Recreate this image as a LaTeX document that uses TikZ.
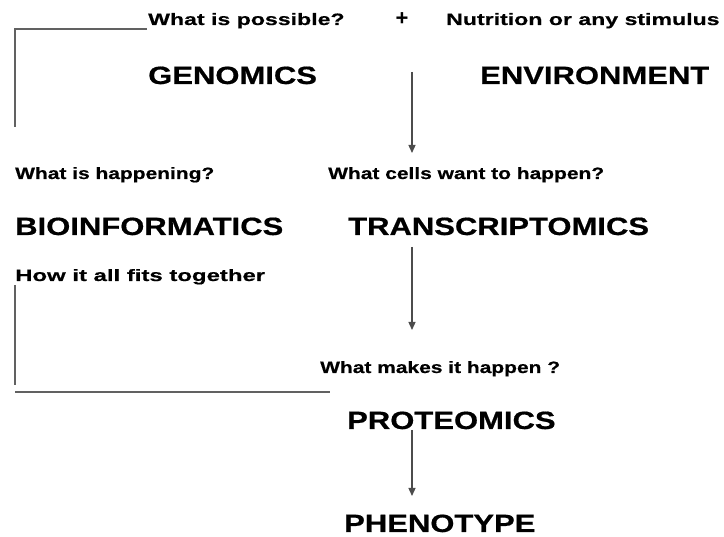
\documentclass[tikz,border=0pt]{standalone}
\usepackage{fontspec}
\usetikzlibrary{arrows.meta}
\setmainfont{Liberation Sans}
\newfontfamily\bigfam[FakeStretch=1.24,FakeBold=0.6]{Liberation Sans}
\newfontfamily\smallAfam[FakeStretch=1.4,FakeBold=0.5]{Liberation Sans}
\newfontfamily\smallDfam[FakeStretch=1.45,FakeBold=0.5]{Liberation Sans}
\newfontfamily\smallBfam[FakeStretch=1.27,FakeBold=0.5]{Liberation Sans}
\tikzset{
  biglabel/.style={anchor=base west, inner sep=0pt, font=\bigfam\bfseries\fontsize{25}{30}\selectfont},
  qlabel/.style={anchor=base west, inner sep=0pt, font=\smallAfam\bfseries\fontsize{16.5}{20}\selectfont},
  qlabelw/.style={anchor=base west, inner sep=0pt, font=\smallDfam\bfseries\fontsize{16.5}{20}\selectfont},
  qlabelc/.style={anchor=base west, inner sep=0pt, font=\smallBfam\bfseries\fontsize{16.5}{20}\selectfont},
  plus/.style={inner sep=0pt, font=\bfseries\fontsize{22}{26}\selectfont},
  bracket/.style={draw=black!62, line width=1.6pt},
  flow/.style={draw=black!70, line width=1.3pt, -{Triangle[width=7pt,length=8pt]}},
}
\begin{document}
\begin{tikzpicture}[x=1pt,y=-1pt]
\useasboundingbox (0,0) rectangle (724,537);
% question labels
\node[qlabel] (qpos) at (148,25) {What is possible?};
\node[plus] (pl) at (402,19) {+};
\node[qlabel] (qnut) at (446,25) {Nutrition or any stimulus};
\node[qlabelc] (qhap) at (15,179) {What is happening?};
\node[qlabelc] (qcells) at (328,179) {What cells want to happen?};
\node[qlabelw] (qfit) at (15,281) {How it all fits together};
\node[qlabelc] (qmake) at (320,373) {What makes it happen ?};
% main labels
\node[biglabel] (gen) at (148,84) {GENOMICS};
\node[biglabel] (env) at (480,84) {ENVIRONMENT};
\node[biglabel] (bio) at (15,235) {BIOINFORMATICS};
\node[biglabel] (tra) at (348,235) {TRANSCRIPTOMICS};
\node[biglabel] (pro) at (347,429) {PROTEOMICS};
\node[biglabel] (phe) at (344,532) {PHENOTYPE};
% coordinates
\coordinate (b1s) at (147,29);
\coordinate (b1c) at (15,29);
\coordinate (b1e) at (15,127);
\coordinate (b2s) at (15,285);
\coordinate (b2e) at (15,385);
\coordinate (b3s) at (15,392);
\coordinate (b3e) at (330,392);
\coordinate (a1s) at (412,72);
\coordinate (a1e) at (412,153);
\coordinate (a2s) at (412,247);
\coordinate (a2e) at (412,330);
\coordinate (a3s) at (412,430);
\coordinate (a3e) at (412,496);
% brackets
\draw[bracket] (b1s) -- (b1c) -- (b1e);
\draw[bracket] (b2s) -- (b2e);
\draw[bracket] (b3s) -- (b3e);
% arrows
\draw[flow] (a1s) -- (a1e);
\draw[flow] (a2s) -- (a2e);
\draw[flow] (a3s) -- (a3e);
\end{tikzpicture}
\end{document}
